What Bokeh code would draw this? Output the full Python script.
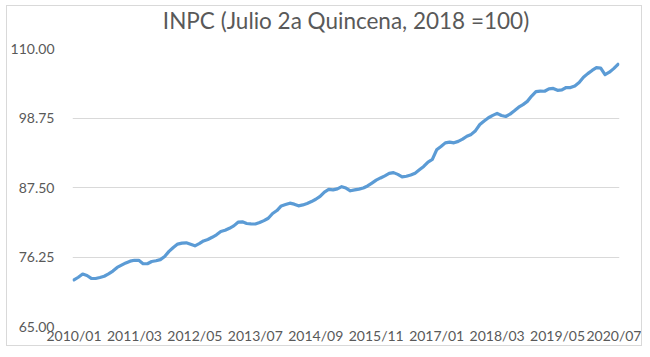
from bokeh.plotting import figure
from bokeh.models import Range1d, FixedTicker, NumeralTickFormatter, ColumnDataSource, Title
from bokeh.embed import file_html
from bokeh.resources import INLINE

title_text = "INPC (Julio 2a Quincena, 2018 =100)"

inpc = [
    72.552, 72.972, 73.490, 73.256, 72.795, 72.771, 72.930, 73.132, 73.515, 73.970, 74.562, 74.931,
    75.296, 75.579, 75.724, 75.718, 75.160, 75.156, 75.516, 75.636, 75.821, 76.333, 77.159, 77.793,
    78.343, 78.503, 78.548, 78.302, 78.055, 78.414, 78.854, 79.091, 79.439, 79.841, 80.384, 80.568,
    80.893, 81.291, 81.888, 81.942, 81.669, 81.620, 81.593, 81.825, 82.133, 82.524, 83.293, 83.771,
    84.519, 84.734, 84.966, 84.807, 84.536, 84.682, 84.915, 85.220, 85.597, 86.070, 86.764, 87.189,
    87.110, 87.276, 87.631, 87.404, 86.968, 87.113, 87.241, 87.425, 87.753, 88.204, 88.686, 89.047,
    89.387, 89.778, 89.910, 89.626, 89.226, 89.324, 89.526, 89.810, 90.358, 90.907, 91.617, 92.039,
    93.604, 94.145, 94.723, 94.839, 94.726, 94.964, 95.323, 95.794, 96.094, 96.698, 97.695, 98.273,
    98.795, 99.171, 99.492, 99.155, 98.994, 99.376, 99.909, 100.492, 100.917, 101.440, 102.303, 103.020,
    103.108, 103.079, 103.476, 103.531, 103.233, 103.299, 103.687, 103.670, 103.942, 104.503, 105.346, 105.934,
    106.447, 106.889, 106.838, 105.755, 106.162, 106.743, 107.444,
]

tick_positions = [0, 14, 28, 42, 56, 70, 84, 98, 112, 126]
tick_labels = ["2010/01", "2011/03", "2012/05", "2013/07", "2014/09",
               "2015/11", "2017/01", "2018/03", "2019/05", "2020/07"]
y_ticks = [65.0, 76.25, 87.5, 98.75, 110.0]

month_index = list(range(len(inpc)))
source = ColumnDataSource(data=dict(x=month_index, y=inpc))

FONT = "Lato"
TXT = "#595959"
GRID = "#d9d9d9"

p = figure(
    width=636, height=341,
    output_backend="svg", toolbar_location=None,
    x_range=Range1d(-0.35, 126.35), y_range=Range1d(65, 110),
    min_border_left=63, min_border_right=24, min_border_top=42, min_border_bottom=21,
    margin=(5, 0, 0, 6),
    styles={"border": "1px solid #d9d9d9"},
)
p.outline_line_color = None
p.background_fill_color = "white"
p.border_fill_color = "white"

p.title.text = title_text
p.title.align = "center"
p.title.vertical_align = "top"
p.title.text_font = FONT
p.title.text_font_size = "22.5px"
p.title.text_font_style = "normal"
p.title.text_color = TXT
p.title.standoff = 0
p.title.offset = -2

# empty spacer between the title and the plot area
spacer = Title(text=" ", text_font_size="1px", standoff=10)
p.add_layout(spacer, "above")

p.line("x", "y", source=source, line_color="#5b9bd5", line_width=3.2, line_join="round", line_cap="round")

p.xaxis.ticker = FixedTicker(ticks=tick_positions)
p.xaxis.major_label_overrides = {pos: lab for pos, lab in zip(tick_positions, tick_labels)}
p.yaxis.ticker = FixedTicker(ticks=y_ticks)
p.yaxis.formatter = NumeralTickFormatter(format="0.00")

for ax in (p.xaxis[0], p.yaxis[0]):
    ax.axis_line_color = None
    ax.major_tick_line_color = None
    ax.minor_tick_line_color = None
    ax.major_tick_out = 0
    ax.major_tick_in = 0
    ax.minor_tick_out = 0
    ax.minor_tick_in = 0
    ax.major_label_text_font = FONT
    ax.major_label_text_font_size = "14px"
    ax.major_label_text_color = TXT
p.xaxis.major_label_standoff = 0
p.yaxis.major_label_standoff = 18

p.xgrid.grid_line_color = None
p.ygrid.grid_line_color = GRID
p.ygrid.grid_line_width = 1
p.ygrid.ticker = FixedTicker(ticks=y_ticks)

open("out.html", "w").write(file_html(p, INLINE))
